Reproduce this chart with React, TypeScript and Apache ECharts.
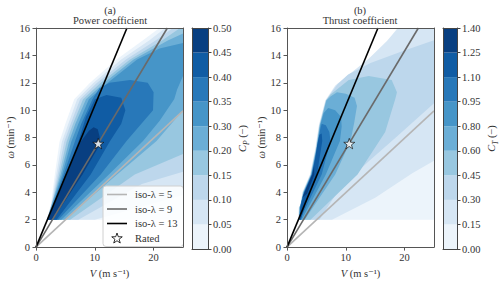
import React, { useEffect, useRef } from 'react';
import * as echarts from 'echarts';

const FONT = '"Liberation Serif", "DejaVu Serif", serif';

// Colour of each contour band (matplotlib Blues, 9 bands)
const bandColors = ['#ecf4fb', '#d6e6f4', '#bdd7ec', '#98c7e0', '#6baed6', '#4695c8', '#2878b9', '#105ca4', '#083f81'];

const cpTickLabels = ['0.00', '0.05', '0.10', '0.15', '0.20', '0.30', '0.35', '0.40', '0.45', '0.50'];
const ctTickLabels = ['0.00', '0.15', '0.30', '0.45', '0.60', '0.80', '0.95', '1.10', '1.25', '1.40'];

const xTicks = [0, 10, 20];

// iso tip-speed-ratio lines, [V (m/s), omega (rpm)]
const iso5 = [[0, 0], [25, 9.95]];
const iso9 = [[0, 0], [22.34, 16]];
const iso13 = [[0, 0], [15.47, 16]];
const rated = [[10.59, 7.56]];

// Power coefficient: superlevel regions (Cp >= level k)
const cp0 = [[1.8, 2], [2.5, 3], [3.2, 5.3], [4.0, 7.7], [5.0, 9.0], [6.5, 10.8], [9.2, 12], [13.7, 13.7], [18.2, 15.1], [21, 16], [25, 16], [25, 2]];
const cp1 = [[1.83, 2], [2.6, 3.1], [3.45, 5.3], [4.4, 7.7], [5.5, 9.0], [7.0, 10.8], [9.8, 12], [14.5, 13.7], [19.3, 15.1], [22, 16], [25, 16], [25, 3.8], [10, 2]];
const cp2 = [[1.86, 2], [2.7, 3.2], [3.7, 5.3], [4.8, 7.7], [5.9, 9.0], [7.5, 10.8], [10.4, 12], [15.3, 13.7], [20.4, 15.1], [23.3, 16], [25, 16], [25, 5.5], [18, 4.6], [7.2, 2]];
const cp3 = [[1.89, 2], [2.8, 3.3], [3.95, 5.3], [5.2, 7.7], [6.3, 9.0], [8.0, 10.8], [11.0, 12], [16.0, 13.7], [21.5, 15.1], [24.5, 16], [25, 16], [25, 6.8], [16.8, 5.3], [5.8, 2]];
const cp4 = [[1.92, 2], [4.2, 5.3], [5.6, 7.7], [6.7, 9.0], [8.5, 10.8], [11.6, 12], [16.6, 13.7], [22.5, 15.1], [25, 15.6], [25, 10.0], [20.5, 7.75], [13.8, 5.3], [4.9, 2]];
const cp5 = [[1.95, 2], [4.45, 5.3], [6.0, 7.7], [7.2, 9.0], [9.0, 10.8], [12.2, 12], [17.2, 13.7], [21, 14.5], [25, 14.9], [25, 12.5], [24, 11.5], [23.5, 10.8], [21, 9.2], [18.2, 7.75], [12.4, 5.3], [4.3, 2]];
const cp6 = [[1.97, 2], [4.7, 5.3], [6.6, 7.7], [7.7, 9.0], [9.6, 10.8], [10.8, 11.6], [12.5, 12.0], [16, 12.2], [19, 12], [20, 11.3], [19.9, 10], [15.4, 7.75], [11, 5.3], [3.8, 2]];
const cp7 = [[2.0, 2], [5.0, 5.3], [7.2, 7.7], [8.5, 9.5], [10.0, 10.8], [12, 11.1], [14.5, 10.9], [15.2, 10], [14.5, 9], [12.6, 7.75], [9.3, 5.3], [3.5, 2]];
const cp8 = [[2.03, 2], [5.25, 5.3], [7.6, 7.7], [9.0, 8.5], [9.8, 8.75], [10.5, 8.6], [10.85, 8.0], [10.6, 7.3], [7.9, 5.3], [2.85, 2]];

// Thrust coefficient: superlevel regions (Ct >= level k)
const ct0 = [[1.93, 2], [1.98, 2.9], [2.25, 3.0], [2.6, 4.0], [3.9, 5.3], [4.8, 7.2], [5.4, 8.9], [6.5, 10.7], [8.2, 11.8], [10.2, 12.5], [13.9, 13.7], [17.0, 15.0], [18.8, 16], [25, 16], [25, 2]];
const ct1 = [[1.96, 2], [2.02, 2.9], [2.28, 3.05], [2.65, 4.0], [3.95, 5.3], [4.85, 7.2], [5.45, 8.9], [6.55, 10.7], [8.25, 11.8], [10.25, 12.5], [13.9, 13.75], [17.0, 15.05], [18.9, 16], [25, 16], [25, 6.3], [21.3, 5.4], [15, 3.6], [7.65, 2]];
const ct2 = [[1.99, 2], [2.05, 2.9], [2.3, 3.1], [2.7, 4.0], [4.0, 5.3], [4.9, 7.2], [5.5, 8.9], [6.6, 10.7], [8.6, 11.9], [10.4, 12.6], [14.2, 13.45], [19.6, 14.3], [25, 15.1], [25, 10.5], [18.5, 8.0], [14, 6.3], [9, 4.3], [5.5, 2]];
const ct3 = [[2.02, 2], [2.1, 2.9], [2.33, 3.15], [2.75, 4.0], [4.05, 5.3], [4.95, 7.2], [5.55, 8.9], [6.65, 10.7], [7.4, 11.15], [7.9, 11.3], [10.5, 12.2], [13.9, 12.5], [17.8, 12.2], [18.7, 11.3], [18.4, 10.8], [16.7, 8.4], [12.0, 5.3], [4.0, 2]];
const ct4 = [[2.05, 2], [2.15, 2.9], [2.38, 3.2], [2.8, 4.0], [4.1, 5.3], [5.0, 7.2], [5.6, 8.9], [6.7, 10.7], [7.4, 11.0], [8.5, 11.3], [10, 11.2], [11.5, 10.9], [11.9, 10.3], [11.4, 9.0], [10.8, 7.75], [8.2, 5.3], [3.0, 2]];
const ct5 = [[2.08, 2], [2.2, 2.9], [2.42, 3.25], [2.85, 4.0], [4.15, 5.3], [5.05, 7.2], [5.65, 8.9], [6.25, 9.8], [7.0, 10.15], [8.2, 10.0], [9.2, 9.5], [9.3, 8.8], [9.0, 7.75], [6.6, 5.3], [2.5, 2]];
const ct6 = [[2.1, 2], [2.25, 2.9], [2.45, 3.3], [2.9, 4.0], [4.2, 5.3], [5.15, 7.2], [5.65, 8.6], [5.9, 9.0], [6.6, 8.9], [7.2, 8.4], [7.4, 7.75], [5.9, 5.3], [2.2, 2]];
const ct7 = [[2.12, 2], [2.3, 2.95], [2.5, 3.35], [2.95, 4.0], [4.25, 5.3], [4.8, 6.5], [5.15, 7.5], [5.5, 8.2], [5.9, 8.3], [6.0, 7.75], [5.1, 5.3], [3.5, 3.6], [2.35, 2]];
const ct8 = [[2.6, 3.6], [3.0, 4.0], [4.3, 5.3], [4.6, 5.9], [4.65, 5.3], [3.4, 3.9]];

const cpBands = [cp0, cp1, cp2, cp3, cp4, cp5, cp6, cp7, cp8];
const ctBands = [ct0, ct1, ct2, ct3, ct4, ct5, ct6, ct7, ct8];

const FRAME = '#555';
const TEXT = '#333';
const LINE_COLORS = ['#b5b5b5', '#6a6a6a', '#000000'];
const LINE_NAMES = ['iso-λ = 5', 'iso-λ = 9', 'iso-λ = 13'];

function plotX(grid: number, name: string | null, top: boolean) {
  return {
    type: 'value', gridIndex: grid, min: 0, max: 25, position: top ? 'top' : 'bottom', z: 10,
    axisLine: { show: true, onZero: false, lineStyle: { color: FRAME, width: 1 } },
    axisTick: { show: !top, length: 3.5, customValues: xTicks, lineStyle: { color: FRAME } },
    axisLabel: { show: !top, customValues: xTicks, margin: 5, fontFamily: FONT, fontSize: 10.5, color: TEXT },
    splitLine: { show: false },
    name: name || '', nameLocation: 'middle', nameGap: 17,
    nameTextStyle: { fontFamily: FONT, fontSize: 10.5, color: TEXT, rich: { i: { fontFamily: FONT, fontStyle: 'italic', fontSize: 10.5, color: TEXT } } },
  };
}
function plotY(grid: number, name: string | null, right: boolean) {
  return {
    type: 'value', gridIndex: grid, min: 0, max: 16, interval: 2, position: right ? 'right' : 'left', z: 10,
    axisLine: { show: true, onZero: false, lineStyle: { color: FRAME, width: 1 } },
    axisTick: { show: !right, length: 3.5, lineStyle: { color: FRAME } },
    axisLabel: { show: !right, margin: 6, fontFamily: FONT, fontSize: 10.5, color: TEXT },
    splitLine: { show: false },
    name: name || '', nameLocation: 'middle', nameGap: 15,
    nameTextStyle: { fontFamily: FONT, fontSize: 10.5, color: TEXT, rich: { i: { fontFamily: FONT, fontStyle: 'italic', fontSize: 10.5, color: TEXT } } },
  };
}
function barX(grid: number, top: boolean) {
  return {
    type: 'value', gridIndex: grid, min: 0, max: 1, position: top ? 'top' : 'bottom', z: 10,
    axisLine: { show: true, onZero: false, lineStyle: { color: '#444', width: 1 } },
    axisTick: { show: false }, axisLabel: { show: false }, splitLine: { show: false },
  };
}
function barY(grid: number, labels: string[] | null, name: string) {
  return {
    type: 'value', gridIndex: grid, min: 0, max: 9, interval: 1, position: labels ? 'right' : 'left', z: 10,
    axisLine: { show: true, onZero: false, lineStyle: { color: '#444', width: 1 } },
    axisTick: { show: !!labels, length: 3.5, lineStyle: { color: '#444' } },
    axisLabel: {
      show: !!labels, margin: 5, fontFamily: FONT, fontSize: 10.5, color: TEXT,
      formatter: (v: number) => (labels ? labels[Math.round(v)] : ''),
    },
    splitLine: { show: false },
    name: labels ? name : '', nameLocation: 'middle', nameGap: 26, nameRotate: 90,
    nameTextStyle: {
      fontFamily: FONT, fontSize: 10.5, color: TEXT,
      rich: {
        i: { fontFamily: FONT, fontStyle: 'italic', fontSize: 10.5, color: TEXT, lineHeight: 16, verticalAlign: 'middle' },
        s: { fontFamily: FONT, fontStyle: 'italic', fontSize: 7.5, color: TEXT, lineHeight: 10, verticalAlign: 'bottom' },
        n: { fontFamily: FONT, fontSize: 10.5, color: TEXT, lineHeight: 16, verticalAlign: 'middle' },
      },
    },
  };
}

function bandSeries(bands: number[][][], xi: number, yi: number) {
  return {
    type: 'custom', xAxisIndex: xi, yAxisIndex: yi, silent: true, z: 1,
    data: bands.map((_, i) => [i]),
    renderItem: (params: any, api: any) => {
      const k = api.value(0);
      const pts = bands[k].map((p) => api.coord(p));
      return { type: 'polygon', shape: { points: pts }, style: { fill: bandColors[k], stroke: 'none' } };
    },
  };
}
function colorbarSeries(xi: number, yi: number) {
  return {
    type: 'custom', xAxisIndex: xi, yAxisIndex: yi, silent: true, z: 1,
    data: bandColors.map((_, i) => [i]),
    renderItem: (params: any, api: any) => {
      const k = api.value(0);
      const a = api.coord([0, k]);
      const b = api.coord([1, k + 1]);
      return { type: 'rect', shape: { x: a[0], y: b[1], width: b[0] - a[0], height: a[1] - b[1] }, style: { fill: bandColors[k] } };
    },
  };
}
const STAR = 'path://M0,-10L2.35,-3.24L9.51,-3.09L3.8,1.24L5.88,8.09L0,4L-5.88,8.09L-3.8,1.24L-9.51,-3.09L-2.35,-3.24Z';
const LINE_ICON = 'path://M0,0h20v1.6h-20z';
function lineSeries(xi: number, yi: number) {
  const isoData = [iso5, iso9, iso13];
  return [
    ...isoData.map((data, i) => ({
      type: 'line', name: LINE_NAMES[i], data, xAxisIndex: xi, yAxisIndex: yi, symbol: 'none', z: 3, silent: true,
      lineStyle: { color: LINE_COLORS[i], width: 1.6 }, itemStyle: { color: LINE_COLORS[i] },
    })),
    {
      type: 'scatter', name: 'Rated', data: rated, xAxisIndex: xi, yAxisIndex: yi, z: 4, silent: true,
      symbol: STAR, symbolSize: 11, symbolKeepAspect: true,
      itemStyle: { color: '#ffffff', borderColor: '#000000', borderWidth: 0.8 },
    },
  ];
}

function buildOption() {
  const titleText = (x: number, y: number, text: string) => ({
    type: 'text', x, y, silent: true,
    style: { text, fill: TEXT, font: `10.5px ${FONT}`, align: 'center', verticalAlign: 'middle', textAlign: 'center', textVerticalAlign: 'middle' },
  });
  return {
    animation: false,
    backgroundColor: '#ffffff',
    grid: [
      { left: 36, top: 28, width: 147, height: 221 },
      { left: 192, top: 28, width: 16, height: 221 },
      { left: 287, top: 28, width: 147, height: 221 },
      { left: 443, top: 28, width: 15, height: 221 },
    ],
    xAxis: [
      plotX(0, '{i|V} (m s⁻¹)', false), plotX(0, null, true),
      barX(1, false), barX(1, true),
      plotX(2, '{i|V} (m s⁻¹)', false), plotX(2, null, true),
      barX(3, false), barX(3, true),
    ],
    yAxis: [
      plotY(0, '{i|ω} (min⁻¹)', false), plotY(0, null, true),
      barY(1, cpTickLabels, '{i|C}{s|P}{n| (−)}'), barY(1, null, ''),
      plotY(2, '{i|ω} (min⁻¹)', false), plotY(2, null, true),
      barY(3, ctTickLabels, '{i|C}{s|T}{n| (−)}'), barY(3, null, ''),
    ],
    legend: {
      data: [
        ...LINE_NAMES.map((name, i) => ({ name, icon: LINE_ICON, itemStyle: { color: LINE_COLORS[i], borderWidth: 0 } })),
        { name: 'Rated', icon: STAR, itemStyle: { color: '#ffffff', borderColor: '#000000', borderWidth: 1 } },
      ],
      orient: 'vertical', left: 103, top: 186, itemWidth: 20, itemHeight: 10, itemGap: 3.5,
      padding: [3, 6, 3, 4], backgroundColor: 'rgba(255,255,255,0.85)', borderColor: '#d0d0d0', borderWidth: 1, borderRadius: 3,
      textStyle: { fontFamily: FONT, fontSize: 10.5, color: TEXT, padding: [0, 0, 0, 3] }, selectedMode: false,
    },
    graphic: [
      titleText(110, 10.5, '(a)'), titleText(110, 20.5, 'Power coefficient'),
      titleText(360, 10.5, '(b)'), titleText(360, 20.5, 'Thrust coefficient'),
    ],
    series: [
      bandSeries(cpBands, 0, 0),
      ...lineSeries(0, 0),
      colorbarSeries(2, 2),
      bandSeries(ctBands, 4, 4),
      ...lineSeries(4, 4),
      colorbarSeries(6, 6),
    ],
  };
}

export default function App() {
  const ref = useRef<HTMLDivElement>(null);
  useEffect(() => {
    const chart = echarts.init(ref.current!, null, { renderer: 'svg' });
    chart.setOption(buildOption() as any);
    return () => chart.dispose();
  }, []);
  return <div ref={ref} style={{ position: 'fixed', left: 0, top: 0, width: 500, height: 284 }} />;
}
